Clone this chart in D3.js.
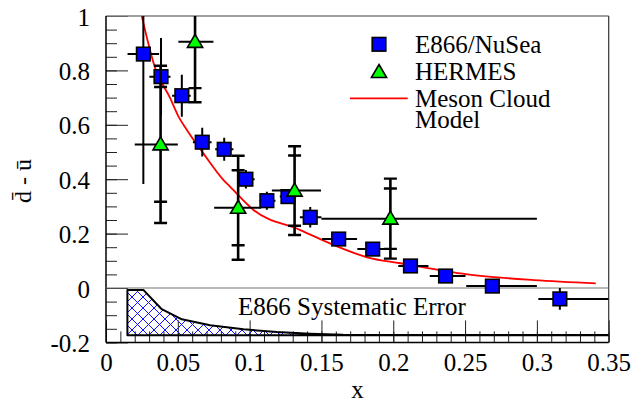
<!DOCTYPE html>
<html>
<head>
<meta charset="utf-8">
<script src="https://cdn.jsdelivr.net/npm/d3@7"></script>
<style>
  body { margin: 0; background: #fff; }
  text { font-family: "Liberation Serif", "Times New Roman", serif; }
</style>
</head>
<body>
<svg width="634" height="404"></svg>
<script>
// ---------------- data ---------------- //

// E866/NuSea: x, bin edges, d-bar minus u-bar, error
var e866X   = [0.026, 0.0383, 0.0528, 0.067, 0.0823, 0.0974, 0.112, 0.1267, 0.1422, 0.162, 0.1857, 0.212, 0.2364, 0.269, 0.316];
var e866Lo  = [0.015, 0.0302, 0.046, 0.0605, 0.076, 0.0925, 0.107, 0.121, 0.135, 0.1504, 0.175, 0.2035, 0.2254, 0.2508, 0.301];
var e866Hi  = [0.037, 0.0449, 0.059, 0.0735, 0.0887, 0.1035, 0.118, 0.1325, 0.150, 0.1748, 0.198, 0.2245, 0.2503, 0.300, 0.350];
var e866Y   = [0.86, 0.777, 0.707, 0.536, 0.51, 0.40, 0.321, 0.336, 0.26, 0.18, 0.143, 0.081, 0.044, 0.007, -0.04];
var e866Err = [0.478, 0.142, 0.077, 0.053, 0.042, 0.034, 0.033, 0.023, 0.038, 0.02, 0.02, 0.02, 0.02, 0.02, 0.04];

// HERMES: x, bin edges, value, stat and total errors
var hermesX    = [0.038, 0.062, 0.092, 0.1313, 0.198];
var hermesLo   = [0.020, 0.0504, 0.0753, 0.1155, 0.150];
var hermesHi   = [0.050, 0.0748, 0.108, 0.1497, 0.300];
var hermesY    = [0.528, 0.905, 0.295, 0.358, 0.255];
var hermesStat = [0.211, 0.17, 0.138, 0.129, 0.111];
var hermesTot  = [0.289, 0.222, 0.191, 0.163, 0.147];

// Meson cloud model curve
var mesonX = [0.0249, 0.0342, 0.0446, 0.0504, 0.0563, 0.0678, 0.0818, 0.0865, 0.1027, 0.1353, 0.1585, 0.1818, 0.205, 0.2515, 0.298, 0.341];
var mesonY = [1.0, 0.809, 0.699, 0.631, 0.581, 0.495, 0.397, 0.372, 0.287, 0.213, 0.158, 0.113, 0.091, 0.050, 0.029, 0.017];

// E866 systematic error band (top edge, bottom is flat)
var sysX   = [0.0149, 0.026, 0.0388, 0.0528, 0.0725, 0.0957, 0.119, 0.142, 0.165, 0.35];
var sysTop = [-0.007, -0.007, -0.078, -0.115, -0.137, -0.152, -0.162, -0.168, -0.172, -0.173];
var sysBottom = -0.174;

// tick labels
var xTickValues = [0, 0.05, 0.1, 0.15, 0.2, 0.25, 0.3, 0.35];
var xTickLabels = ['0', '0.05', '0.1', '0.15', '0.2', '0.25', '0.3', '0.35'];
var yTickValues = [-0.2, 0, 0.2, 0.4, 0.6, 0.8, 1];
var yTickLabels = ['-0.2', '0', '0.2', '0.4', '0.6', '0.8', '1'];

// ---------------- drawing ---------------- //

var svg = d3.select('svg');
var padL = 106, padR = 608.7, padT = 16, padB = 342.4;
var x = d3.scaleLinear().domain([0, 0.35]).range([padL, padR]);
var y = d3.scaleLinear().domain([-0.2, 1]).range([padB, padT]);

var defs = svg.append('defs');
defs.append('clipPath').attr('id', 'plot_clip')
  .append('rect').attr('x', padL).attr('y', padT).attr('width', padR - padL).attr('height', padB - padT);
var hatch = defs.append('pattern').attr('id', 'hatch').attr('patternUnits', 'userSpaceOnUse')
  .attr('width', 11).attr('height', 11);
hatch.append('path').attr('d', 'M0,0L11,11M11,0L0,11M-1,10L1,12M10,-1L12,1')
  .attr('stroke', '#1010ff').attr('stroke-width', 1).attr('fill', 'none');

// Axes (ticks pointing inward)
var fmtX = function(d){ return xTickLabels[xTickValues.indexOf(d)]; };
var fmtY = function(d){ return yTickLabels[yTickValues.indexOf(d)]; };

var xMinor = svg.append('g').attr('transform', 'translate(0,' + padB + ')')
  .call(d3.axisBottom(x).tickValues(d3.range(0, 36).map(function(i){ return i / 100; })).tickSize(-11).tickFormat(''));
var xMajor = svg.append('g').attr('transform', 'translate(0,' + padB + ')')
  .call(d3.axisBottom(x).tickValues(xTickValues).tickSize(-22).tickPadding(11).tickFormat(fmtX));
var yMinor = svg.append('g').attr('transform', 'translate(' + padL + ',0)')
  .call(d3.axisLeft(y).tickValues(d3.range(0, 25).map(function(i){ return -0.2 + i * 0.05; })).tickSize(-11).tickFormat(''));
var yMajor = svg.append('g').attr('transform', 'translate(' + padL + ',0)')
  .call(d3.axisLeft(y).tickValues(yTickValues).tickSize(-22).tickPadding(16).tickFormat(fmtY));

[xMinor, xMajor, yMinor, yMajor].forEach(function(g){
  g.select('.domain').remove();
  g.selectAll('line').attr('stroke', '#222');
  g.selectAll('text').style('font-size', '25px').style('font-family', '"Liberation Serif", serif').attr('fill', '#000');
});
yMajor.selectAll('text').attr('dy', '0.36em');

// Frame
svg.append('line').attr('x1', padL).attr('x2', padR).attr('y1', padT).attr('y2', padT).attr('stroke', '#808080').attr('stroke-width', 1.5);
svg.append('line').attr('x1', padR).attr('x2', padR).attr('y1', padT).attr('y2', padB).attr('stroke', '#333').attr('stroke-width', 1.2);
svg.append('line').attr('x1', padL).attr('x2', padR).attr('y1', padB).attr('y2', padB).attr('stroke', '#000').attr('stroke-width', 1.5);
svg.append('line').attr('x1', padL).attr('x2', padL).attr('y1', padT).attr('y2', padB).attr('stroke', '#000').attr('stroke-width', 1.5);

// Zero line
svg.append('line').attr('x1', padL).attr('x2', padR).attr('y1', y(0)).attr('y2', y(0)).attr('stroke', '#777').attr('stroke-width', 1.2);

// Axis titles
svg.append('text').attr('x', 357.5).attr('y', 398).attr('text-anchor', 'middle').style('font-size', '25px').text('x');
svg.append('text').attr('transform', 'translate(31,181) rotate(-90)').attr('text-anchor', 'middle')
  .style('font-size', '24px').text('d\u0304 - \u016b');

var plot = svg.append('g').attr('clip-path', 'url(#plot_clip)');

// Systematic error band
var bandPts = sysX.map(function(d, i){ return [x(d), y(sysTop[i])]; });
bandPts = bandPts.concat(sysX.slice().reverse().map(function(d){ return [x(d), y(sysBottom)]; }));
plot.append('path').attr('d', d3.line()(bandPts) + 'Z')
  .attr('fill', 'url(#hatch)').attr('stroke', '#000').attr('stroke-width', 2).attr('stroke-linejoin', 'round');

svg.append('text').attr('x', 238).attr('y', 315).style('font-size', '25px').text('E866 Systematic Error');

// Meson cloud curve
var mesonLine = d3.line().x(function(d){ return x(d[0]); }).y(function(d){ return y(d[1]); }).curve(d3.curveMonotoneX);
plot.append('path').datum(mesonX.map(function(d, i){ return [d, mesonY[i]]; }))
  .attr('d', mesonLine).attr('fill', 'none').attr('stroke', '#ff0000').attr('stroke-width', 1.8);

// E866 error bars and squares
var e866 = e866X.map(function(d, i){ return { x: d, lo: e866Lo[i], hi: e866Hi[i], y: e866Y[i], e: e866Err[i] }; });
var eg = plot.append('g');
eg.selectAll('.ev').data(e866).enter().append('line')
  .attr('x1', function(d){ return x(d.x); }).attr('x2', function(d){ return x(d.x); })
  .attr('y1', function(d){ return y(d.y + d.e); }).attr('y2', function(d){ return y(d.y - d.e); })
  .attr('stroke', '#000').attr('stroke-width', 2);
eg.selectAll('.eh').data(e866).enter().append('line')
  .attr('x1', function(d){ return x(d.lo); }).attr('x2', function(d){ return x(d.hi); })
  .attr('y1', function(d){ return y(d.y); }).attr('y2', function(d){ return y(d.y); })
  .attr('stroke', '#000').attr('stroke-width', 2);

// HERMES error bars (stat + total, both capped)
var hermes = hermesX.map(function(d, i){ return { x: d, lo: hermesLo[i], hi: hermesHi[i], y: hermesY[i], s: hermesStat[i], t: hermesTot[i] }; });
var hg = plot.append('g');
hg.selectAll('.hh').data(hermes).enter().append('line')
  .attr('x1', function(d){ return x(d.lo); }).attr('x2', function(d){ return x(d.hi); })
  .attr('y1', function(d){ return y(d.y); }).attr('y2', function(d){ return y(d.y); })
  .attr('stroke', '#000').attr('stroke-width', 2);
hg.selectAll('.hv').data(hermes).enter().append('line')
  .attr('x1', function(d){ return x(d.x); }).attr('x2', function(d){ return x(d.x); })
  .attr('y1', function(d){ return y(d.y + d.t); }).attr('y2', function(d){ return y(d.y - d.t); })
  .attr('stroke', '#000').attr('stroke-width', 2.6);
hermes.forEach(function(d){
  [d.y + d.s, d.y - d.s, d.y + d.t, d.y - d.t].forEach(function(v){
    hg.append('line').attr('x1', x(d.x) - 6.5).attr('x2', x(d.x) + 6.5).attr('y1', y(v)).attr('y2', y(v))
      .attr('stroke', '#000').attr('stroke-width', 2.4);
  });
});

// markers
function squareAt(g, cx, cy){
  g.append('rect').attr('x', cx - 6.8).attr('y', cy - 6.8).attr('width', 13.6).attr('height', 13.6)
    .attr('fill', '#0000ff').attr('stroke', '#000').attr('stroke-width', 1.6);
}
function triangleAt(g, cx, cy){
  g.append('path').attr('d', 'M' + cx + ',' + (cy - 7.5) + 'L' + (cx + 7.6) + ',' + (cy + 5.5) + 'L' + (cx - 7.6) + ',' + (cy + 5.5) + 'Z')
    .attr('fill', '#00ff00').attr('stroke', '#000').attr('stroke-width', 1.6).attr('stroke-linejoin', 'miter');
}
e866.forEach(function(d){ squareAt(eg, x(d.x), y(d.y)); });
hermes.forEach(function(d){ triangleAt(hg, x(d.x), y(d.y)); });

// Legend
var lg = svg.append('g');
squareAt(lg, 379, 44.3);
triangleAt(lg, 379, 72);
lg.append('line').attr('x1', 350).attr('x2', 407.7).attr('y1', 98.3).attr('y2', 98.3).attr('stroke', '#ff0000').attr('stroke-width', 1.8);
lg.append('text').attr('x', 415).attr('y', 53.3).style('font-size', '25px').text('E866/NuSea');
lg.append('text').attr('x', 415).attr('y', 80).style('font-size', '25px').text('HERMES');
lg.append('text').attr('x', 415).attr('y', 106.7).style('font-size', '25px').text('Meson Cloud');
lg.append('text').attr('x', 415).attr('y', 127.7).style('font-size', '25px').text('Model');
</script>
</body>
</html>
